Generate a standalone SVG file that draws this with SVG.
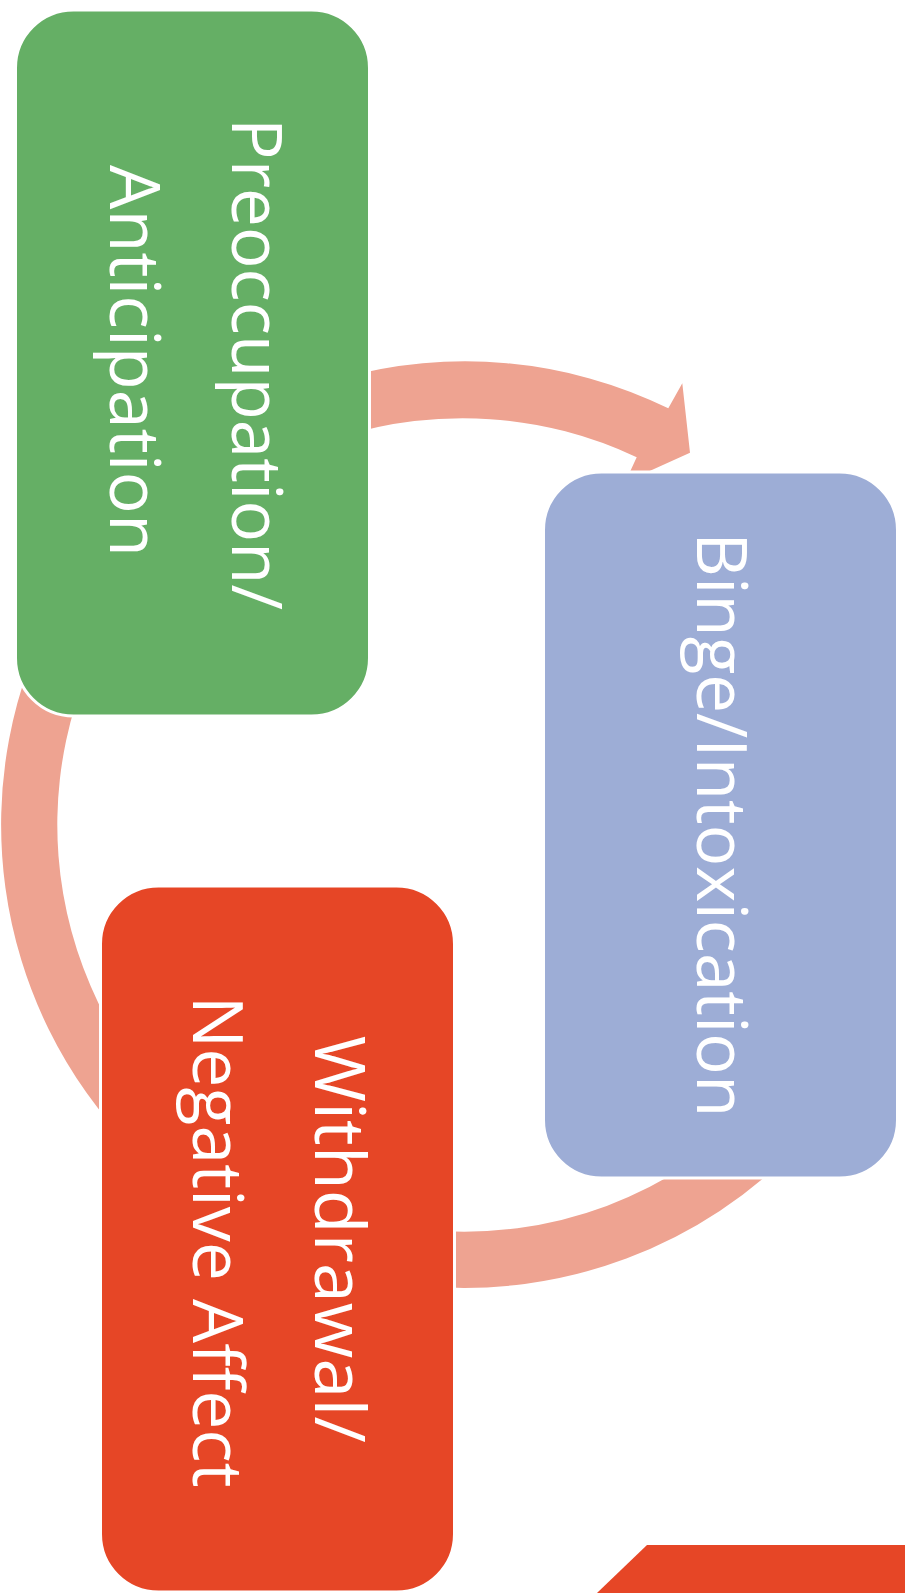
<svg xmlns="http://www.w3.org/2000/svg" width="905" height="1593" viewBox="0 0 905 1593">
  <style>
    .arc { fill: #EEA391; stroke: none; }
    .box { stroke: #FFFFFF; stroke-width: 3; }
    .green { fill: #65AF65; }
    .blue { fill: #9DADD6; }
    .red { fill: #E64626; }
    .lbl { font-family: "Open Sans", "Noto Sans", "Liberation Sans", sans-serif; font-size: 70px; fill: #FFFFFF; text-anchor: middle; }
  </style>
  <rect x="0" y="0" width="905" height="1593" fill="#FFFFFF"/>
  <g id="connectors">
    <path class="arc" d="M 340,378.5 A 463.2 463.2 0 0 1 668.3,408.3 L 682.3,383.3 L 690,452.7 L 625.3,482 L 636.7,457.3 A 407 407 0 0 0 340,437.1 Z"/>
    <path class="arc" d="M 800,1143.7 A 463.2 463.2 0 0 1 420,1285.8 L 425.2,1229.8 A 407 407 0 0 0 759.4,1104.9 Z"/>
    <path class="arc" d="M 59.3,600 A 463.2 463.2 0 0 0 134.5,1150 L 219.6,1150 A 407 407 0 0 1 125,600 Z"/>
  </g>
  <g id="node-preoccupation">
    <rect class="box green" x="15.5" y="10" width="354" height="706" rx="58" ry="58"/>
    <text class="lbl" transform="translate(231.6,364) rotate(90)" textLength="492" lengthAdjust="spacingAndGlyphs">Preoccupation/</text>
    <text class="lbl" transform="translate(109.7,361) rotate(90)" textLength="392" lengthAdjust="spacingAndGlyphs">Anticipation</text>
  </g>
  <g id="node-binge">
    <rect class="box blue" x="543.5" y="472" width="354" height="706" rx="58" ry="58"/>
    <text class="lbl" transform="translate(696.8,824.8) rotate(90)" textLength="585" lengthAdjust="spacingAndGlyphs">Binge/Intoxication</text>
  </g>
  <g id="node-withdrawal">
    <rect class="box red" x="100.5" y="886" width="354" height="706" rx="58" ry="58"/>
    <text class="lbl" transform="translate(314.9,1239.2) rotate(90)" textLength="407" lengthAdjust="spacingAndGlyphs">Withdrawal/</text>
    <text class="lbl" transform="translate(193,1241.7) rotate(90)" textLength="492" lengthAdjust="spacingAndGlyphs">Negative Affect</text>
  </g>
  <polygon class="red" points="589.7,1600 647,1545 905,1545 905,1600"/>
</svg>
